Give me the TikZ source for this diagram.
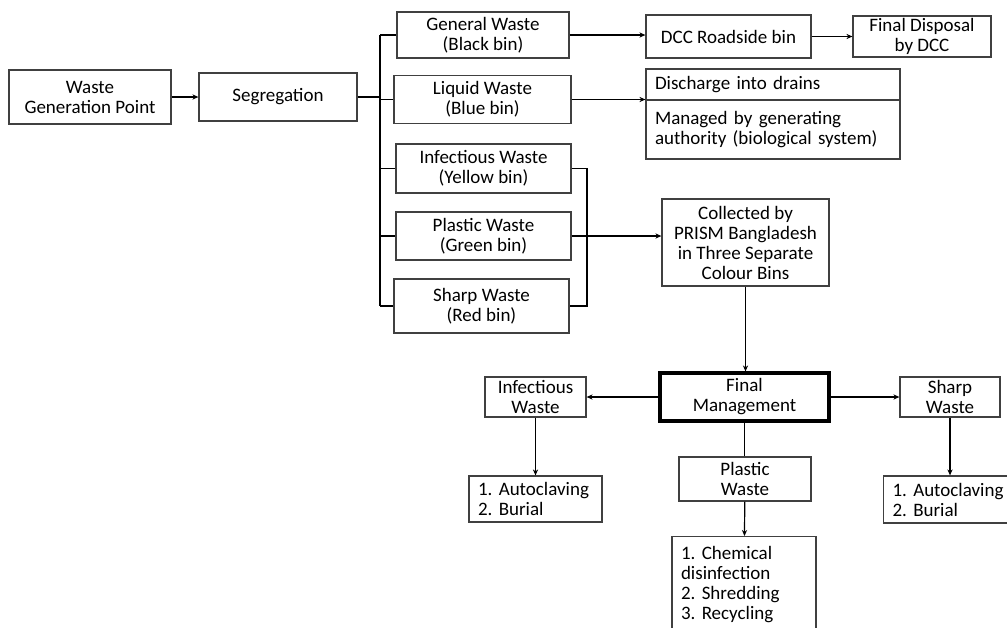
\documentclass[tikz,border=0pt]{standalone}
\usepackage{fontspec}
\setmainfont{Carlito}
\usetikzlibrary{arrows.meta,positioning}
\newcommand{\boxfont}{\fontsize{9.5}{10}\selectfont\frenchspacing\hyphenpenalty=10000\relax}

\begin{document}
\begin{tikzpicture}[x=0.5pt, y=-0.5pt,
>={Stealth[length=3pt,width=2.6pt]}, line width=0.6pt,
box/.style={draw=black!75, line width=0.6pt, align=center, inner xsep=2pt, inner ysep=1pt, font=\boxfont},
list box/.style={box, align=left, inner xsep=4.5pt},
final box/.style={box, draw=black, line width=1.6pt}
	]
	\useasboundingbox (0,0) rectangle (1007,627);
	% Nodes
	\node[box, minimum width=81pt, minimum height=27pt] (WGP) at (90,97) {Waste\\Generation Point};
	\node[box, minimum width=79pt, minimum height=24pt] (SEG) at (278,97) {Segregation};
	\node[box, minimum width=86pt, minimum height=23pt] (GEN) at (483,35) {General Waste\\(Black bin)};
	\node[box, minimum width=88.5pt, minimum height=24pt] (LIQ) at (482.5,99.5) {Liquid Waste\\(Blue bin)};
	\node[box, minimum width=87.5pt, minimum height=24.5pt] (INF) at (483.5,168.5) {Infectious Waste\\(Yellow bin)};
	\node[box, minimum width=87.5pt, minimum height=24pt] (PLA) at (483.5,236) {Plastic Waste\\(Green bin)};
	\node[box, minimum width=87.5pt, minimum height=27pt] (SHP) at (481.5,306) {Sharp Waste\\(Red bin)};
	\node[box, minimum width=82.5pt, minimum height=21.5pt] (DCC) at (728.5,36.5) {DCC Roadside bin};
	\node[box, minimum width=69pt, minimum height=20.5pt] (FDD) at (922,36.5) {Final Disposal\\by DCC};
	\node[list box, text width=118pt, minimum height=15.5pt] (DIS1) at (773,84.5) {Discharge into drains};
	\node[list box, text width=118pt, minimum height=29.5pt] (DIS2) at (773,129.5) {Managed by generating\\authority (biological system)};
	\node[box, minimum width=83.5pt, minimum height=43.5pt] (COL) at (745.5,242.5) {Collected by\\PRISM Bangladesh\\in Three Separate\\Colour Bins};
	\node[final box, minimum width=84.5pt, minimum height=24pt] (FM) at (744.5,397) {Final\\Management};
	\node[box, minimum width=50.5pt, minimum height=20pt] (INFW) at (535.5,397) {Infectious\\Waste};
	\node[box, minimum width=50pt, minimum height=20pt] (SHPW) at (950,397) {Sharp\\Waste};
	\node[list box, text width=57.5pt, minimum height=23pt] (AUT1) at (535.5,499) {1. Autoclaving\\2. Burial};
	\node[list box, text width=57.5pt, minimum height=23.5pt] (AUT2) at (950,499.5) {1. Autoclaving\\2. Burial};
	\node[box, minimum width=66pt, minimum height=22pt] (PLAW) at (745,479) {Plastic\\Waste};
	\node[list box, text width=63pt, inner ysep=5pt, anchor=north] (CHEM) at (744,536) {1. Chemical\\disinfection\\2. Shredding\\3. Recycling};
	\coordinate (bus) at (380,97);
	\coordinate (brk) at (587,236);
	% Edges
	\draw[->] (WGP) -- (SEG);
	\draw (SEG) -- (bus);
	\draw (bus |- GEN.west) -- (bus |- SHP.west);
	\foreach \n in {GEN,LIQ,INF,PLA,SHP}
		\draw (bus |- \n.west) -- (\n.west);
	\draw (INF.east) -| (brk |- SHP.east) -- (SHP.east);
	\draw[->] (PLA.east) -- (PLA.east -| COL.west);
	\draw[->] (GEN.east) -- (GEN.east -| DCC.west);
	\draw[->] (DCC) -- (FDD);
	\draw[->] (LIQ.east) -- (LIQ.east -| DIS1.south west);
	\draw[->] (COL.south) -- (COL.south |- FM.north);
	\draw[->] (FM) -- (INFW);
	\draw[->] (FM) -- (SHPW);
	\draw (FM.south) -- (FM.south |- PLAW.north);
	\draw[->] (PLAW) -- (CHEM);
	\draw[->] (INFW) -- (AUT1);
	\draw[->] (SHPW) -- (AUT2);
\end{tikzpicture}
\end{document}
